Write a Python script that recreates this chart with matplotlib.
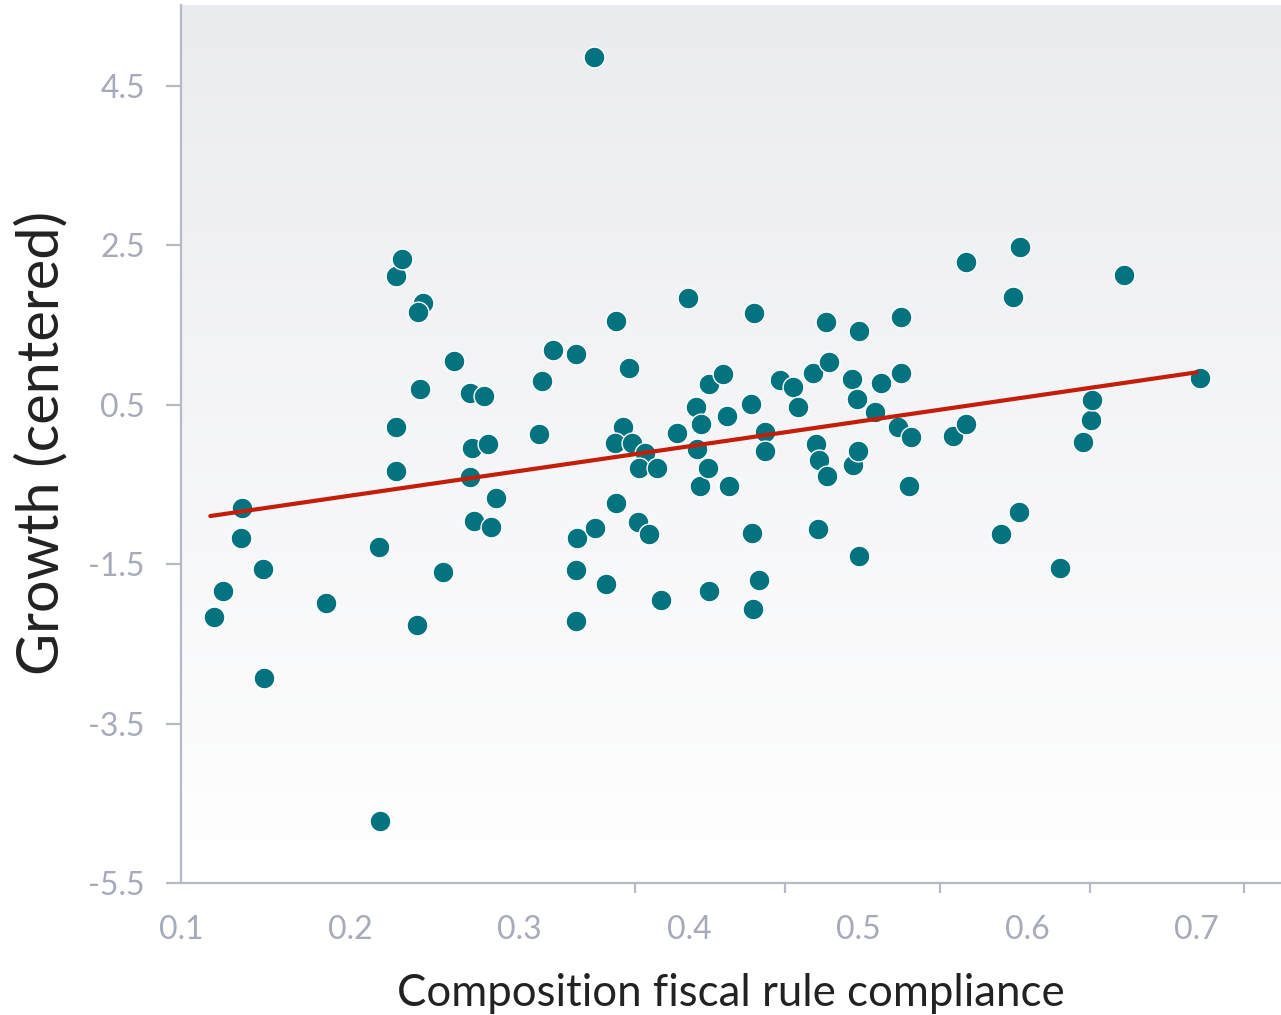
import numpy as np
import matplotlib
matplotlib.use("Agg")
import matplotlib.pyplot as plt

# puntos (cumplimiento de la regla, crecimiento centrado)
compliance = [
    0.1195, 0.125, 0.136, 0.1356, 0.1486, 0.1492, 0.1858, 0.2170, 0.2175, 0.2272,
    0.2305, 0.2431, 0.2398, 0.2410, 0.2272, 0.2272, 0.2392, 0.2549, 0.2614, 0.2705,
    0.2791, 0.2721, 0.2815, 0.2705, 0.2732, 0.2829, 0.2859, 0.3115, 0.3132, 0.3196,
    0.3331, 0.3439, 0.3339, 0.3331, 0.3335, 0.3445, 0.3509, 0.3569, 0.3644, 0.3609,
    0.3562, 0.3666, 0.3741, 0.3703, 0.3812, 0.3569, 0.3699, 0.3766, 0.3833, 0.3930,
    0.3996, 0.4042, 0.4050, 0.4073, 0.4066, 0.4111, 0.4119, 0.4203, 0.4227, 0.4239,
    0.4121, 0.4365, 0.4385, 0.4448, 0.4451, 0.4374, 0.4414, 0.4377, 0.4540, 0.4617,
    0.4646, 0.4731, 0.4810, 0.4828, 0.4749, 0.4768, 0.4814, 0.4763, 0.4965, 0.4995,
    0.5007, 0.5099, 0.5136, 0.4969, 0.5001, 0.5003, 0.5253, 0.5253, 0.5237, 0.5312,
    0.5300, 0.5560, 0.5635, 0.5637, 0.5843, 0.5914, 0.5956, 0.5948, 0.6194, 0.6328,
    0.6377, 0.6381, 0.6572, 0.7021,
]
growth = [
    -2.166, -1.836, -0.791, -1.169, -1.560, -2.932, -1.991, -1.284, -4.726, 2.120,
    2.326, 1.781, 1.661, 0.694, 0.218, -0.327, -2.267, -1.602, 1.050, 0.644,
    0.614, -0.046, 0.012, -0.410, -0.954, -1.037, -0.669, 0.131, 0.805, 1.188,
    1.137, 4.868, -1.167, -1.577, -2.209, -1.050, -1.752, 1.551, 0.958, 0.221,
    0.024, 0.024, -0.105, -0.289, -0.297, -0.732, -0.974, -1.121, -1.949, 0.142,
    1.836, 0.476, -0.055, 0.259, -0.515, -0.289, 0.761, 0.886, 0.363, -0.515,
    -1.840, 0.506, 1.648, 0.163, -0.080, -1.108, -1.698, -2.065, 0.806, 0.720,
    0.469, 0.903, 1.543, 1.033, 0.004, -0.193, -0.390, -1.055, 0.820, 0.573,
    1.430, 0.413, 0.774, -0.255, -0.076, -1.401, 1.598, 0.903, 0.225, 0.092,
    -0.523, 0.115, 0.255, 2.295, -1.121, 1.849, 2.476, -0.849, -1.544, 0.033,
    0.306, 0.560, 2.125, 0.840,
]

# recta de tendencia (extremos leidos)
trend_x = [0.1173, 0.6999]
trend_y = [-0.895, 0.908]

x_ticks = [0.1, 0.2, 0.3, 0.4, 0.5, 0.6, 0.7]
x_tick_marks = [0.1, 0.2, 0.368, 0.457, 0.548, 0.637, 0.728]
y_ticks = [4.5, 2.5, 0.5, -1.5, -3.5, -5.5]

teal = "#03737f"
red = "#c41e0a"
axis_gray = "#b6b9c6"
label_gray = "#a6aaba"

fig = plt.figure(figsize=(12.81, 10.15), dpi=100)
ax = fig.add_axes([0.1413, 0.1300, 0.8587, 0.8650])

# fondo degradado gris claro -> blanco
grad = np.linspace(0, 1, 256).reshape(-1, 1)
top = np.array([235, 236, 240]) / 255
bottom = np.array([255, 255, 255]) / 255
img = top + (bottom - top) * grad[..., None]
ax.imshow(img, extent=[0, 1, 0, 1], transform=ax.transAxes, aspect="auto",
          zorder=0, interpolation="bilinear")

ax.scatter(compliance, growth, s=225, c=teal, edgecolors="white",
           linewidths=1.0, zorder=3)
ax.plot(trend_x, trend_y, color=red, lw=3.0, solid_capstyle="round", zorder=4)

ax.set_xlim(0.1, 0.7497)
ax.set_ylim(-5.5, 5.516)

for s in ["top", "right"]:
    ax.spines[s].set_visible(False)
for s in ["left", "bottom"]:
    ax.spines[s].set_color(axis_gray)
    ax.spines[s].set_linewidth(1.6)

ax.set_yticks(y_ticks)
ax.set_yticklabels([str(v) for v in y_ticks])
ax.tick_params(axis="y", length=11, width=1.6, color=axis_gray, pad=15,
               labelcolor=label_gray, labelsize=23)

ax.set_xticks(x_ticks)
ax.set_xticklabels([str(v) for v in x_ticks])
ax.tick_params(axis="x", which="major", length=0, pad=23,
               labelcolor=label_gray, labelsize=23)
ax.set_xticks(x_tick_marks, minor=True)
ax.tick_params(axis="x", which="minor", length=7.5, width=1.6, color=axis_gray)

for lab in ax.get_xticklabels() + ax.get_yticklabels():
    lab.set_fontfamily("Lato")

ax.set_xlabel("Composition fiscal rule compliance", fontsize=31.5,
              color="#222222", family="Lato", va="center")
ax.xaxis.set_label_coords(0.5, -0.1253)
ax.set_ylabel("Growth (centered)", fontsize=41.5, color="#222222",
              family="Lato", va="center", ha="center")
ax.yaxis.set_label_coords(-0.1264, 0.501)

plt.savefig("out.png", dpi=100)
